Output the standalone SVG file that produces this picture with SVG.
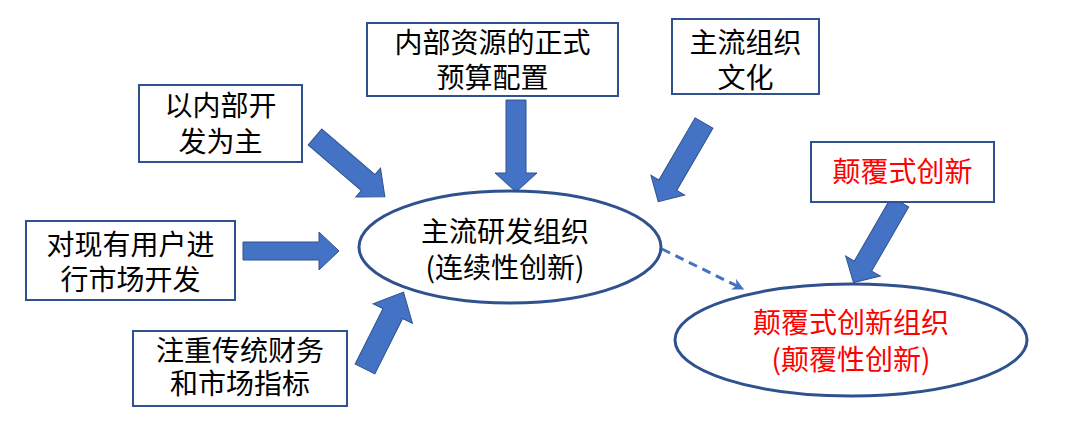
<svg xmlns="http://www.w3.org/2000/svg" width="1080" height="431" viewBox="0 0 1080 431">
<defs>
<style>
.box{fill:#fff;stroke:#2F528F;stroke-width:2}
.ell{fill:#fff;stroke:#2F528F;stroke-width:3}
.t{font-family:"Microsoft YaHei","Noto Sans CJK SC",sans-serif;font-size:28px;fill:#000;text-anchor:middle}
.r{fill:#FF0000}
.blk{fill:#4472C4;stroke:#2F528F;stroke-width:1}
.dash{fill:none;stroke:#4472C4;stroke-width:3;stroke-dasharray:9 6}
</style>
<marker id="ah" viewBox="0 0 10 10" refX="9" refY="5" markerWidth="4" markerHeight="4" orient="auto" markerUnits="strokeWidth">
<path d="M0,0 L10,5 L0,10 L3,5 Z" fill="#4472C4"/>
</marker>
</defs>
<rect width="1080" height="431" fill="#fff"/>

<g id="connectors">
<path class="blk" transform="translate(516,100) rotate(90)" d="M0,-10 L73,-10 L73,-21 L92,0 L73,21 L73,10 L0,10 Z"/>
<path class="blk" transform="translate(243,251)" d="M0,-9 L76,-9 L76,-19 L96,0 L76,19 L76,9 L0,9 Z"/>
<path class="blk" transform="translate(315,137) rotate(40.6)" d="M0,-10.5 L70,-10.5 L70,-19 L92,0 L70,19 L70,10.5 L0,10.5 Z"/>
<path class="blk" transform="translate(365,369) rotate(-63.4)" d="M0,-11 L62,-11 L62,-22 L86,0 L62,22 L62,11 L0,11 Z"/>
<path class="blk" transform="translate(704,123) rotate(120.2)" d="M0,-10.3 L72,-10.3 L72,-19.5 L91,0 L72,19.5 L72,10.3 L0,10.3 Z"/>
<path class="blk" transform="translate(900,202) rotate(120)" d="M0,-10 L74,-10 L74,-20 L93,0 L74,20 L74,10 L0,10 Z"/>
<line class="dash" x1="662" y1="249" x2="743" y2="289" marker-end="url(#ah)"/>
</g>

<g id="n-budget">
<rect class="box" x="367" y="23" width="251" height="73"/>
<text class="t" x="492.5" y="53">内部资源的正式</text>
<text class="t" x="492.5" y="88">预算配置</text>
</g>

<g id="n-culture">
<rect class="box" x="672" y="19" width="147" height="75"/>
<text class="t" x="745.5" y="53">主流组织</text>
<text class="t" x="745.5" y="88">文化</text>
</g>

<g id="n-internal">
<rect class="box" x="139" y="85" width="163" height="77"/>
<text class="t" x="220.5" y="116">以内部开</text>
<text class="t" x="220.5" y="152">发为主</text>
</g>

<g id="n-users">
<rect class="box" x="26" y="221" width="209" height="79"/>
<text class="t" x="130.5" y="255">对现有用户进</text>
<text class="t" x="130.5" y="290">行市场开发</text>
</g>

<g id="n-finance">
<rect class="box" x="133" y="331" width="214" height="75"/>
<text class="t" x="240" y="361">注重传统财务</text>
<text class="t" x="240" y="394">和市场指标</text>
</g>

<g id="n-disrupt">
<rect class="box" x="811" y="142" width="183" height="60"/>
<text class="t r" x="902.5" y="182">颠覆式创新</text>
</g>

<g id="n-main">
<ellipse class="ell" cx="510" cy="247" rx="151" ry="56"/>
<text class="t" x="505" y="242">主流研发组织</text>
<text class="t" x="505" y="278">(连续性创新)</text>
</g>

<g id="n-disrupt-org">
<ellipse class="ell" cx="851" cy="340" rx="176" ry="56"/>
<text class="t r" x="851" y="333">颠覆式创新组织</text>
<text class="t r" x="851" y="370">(颠覆性创新)</text>
</g>
</svg>
